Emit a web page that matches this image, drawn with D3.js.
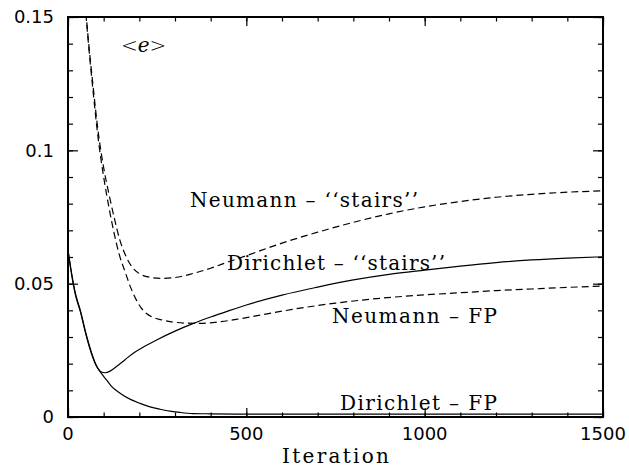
<!DOCTYPE html>
<html>
<head>
<meta charset="utf-8">
<script src="https://cdn.jsdelivr.net/npm/d3@7"></script>
<style>
  html, body { margin: 0; padding: 0; background: #fff; }
  svg { display: block; }
</style>
</head>
<body>
<svg id="chart" width="629" height="468"></svg>
<script>
// Mean error <e> versus iteration count for four solvers.

// Dirichlet boundary, "stairs" scheme (solid)
const dirStairsIter = [0, 10, 20, 35, 50, 65, 80, 92, 104, 118, 136, 160, 185, 215, 250, 300, 350, 400, 450, 500, 600, 700, 800, 900, 1000, 1100, 1200, 1300, 1400, 1500];
const dirStairsErr  = [0.0625, 0.0540, 0.0468, 0.0398, 0.0315, 0.0245, 0.0192, 0.0170, 0.0166, 0.0172, 0.0189, 0.0215, 0.0241, 0.0265, 0.0290, 0.0322, 0.0350, 0.0375, 0.0398, 0.0420, 0.0457, 0.0487, 0.0514, 0.0535, 0.0551, 0.0566, 0.0579, 0.0589, 0.0596, 0.0601];

// Dirichlet boundary, FP scheme (solid)
const dirFpIter = [0, 10, 20, 35, 50, 65, 80, 90, 108, 120, 146, 175, 202, 230, 258, 290, 314, 350, 400, 500, 700, 1000, 1500];
const dirFpErr  = [0.0625, 0.0535, 0.0463, 0.0393, 0.0311, 0.0241, 0.0190, 0.0170, 0.0139, 0.0118, 0.0089, 0.0066, 0.0051, 0.0038, 0.0029, 0.0021, 0.0017, 0.0013, 0.0012, 0.0011, 0.0011, 0.0011, 0.0011];

// Neumann boundary, "stairs" scheme (dashed)
const neuStairsIter = [35, 45, 55, 70, 85, 100, 115, 130, 145, 160, 180, 200, 230, 260, 300, 350, 400, 450, 500, 600, 700, 800, 900, 1000, 1100, 1200, 1300, 1400, 1500];
const neuStairsErr  = [0.181, 0.161, 0.1445, 0.1245, 0.1065, 0.0935, 0.0835, 0.0745, 0.0665, 0.0610, 0.0562, 0.0538, 0.0524, 0.0520, 0.0523, 0.0538, 0.0558, 0.0582, 0.0605, 0.0652, 0.0693, 0.0730, 0.0762, 0.0788, 0.0808, 0.0824, 0.0835, 0.0843, 0.0848];

// Neumann boundary, FP scheme (dashed)
const neuFpIter = [35, 45, 55, 70, 85, 100, 115, 130, 145, 160, 175, 190, 205, 220, 240, 260, 290, 330, 370, 420, 480, 550, 650, 750, 850, 1000, 1100, 1200, 1300, 1400, 1500];
const neuFpErr  = [0.180, 0.160, 0.1435, 0.1225, 0.1040, 0.0900, 0.0785, 0.0685, 0.0603, 0.0545, 0.0488, 0.0443, 0.0409, 0.0388, 0.0373, 0.0365, 0.0357, 0.0352, 0.0351, 0.0356, 0.0368, 0.0385, 0.0408, 0.0427, 0.0442, 0.0458, 0.0466, 0.0474, 0.0480, 0.0486, 0.0491];

// Axis ticks and labels
const xMajorTicks = [0, 500, 1000, 1500];
const xTickLabels = ["0", "500", "1000", "1500"];
const xMinorTicks = d3.range(0, 16).map(k => k * 100);
const yMajorTicks = [0, 0.05, 0.1, 0.15];
const yTickLabels = ["0", "0.05", "0.1", "0.15"];
const yMinorTicks = d3.range(0, 16).map(k => k / 100);

// Curve annotations
const curveLabels = ["Neumann \u2013 \u2018\u2018stairs\u2019\u2019", "Dirichlet \u2013 \u2018\u2018stairs\u2019\u2019", "Neumann \u2013 FP", "Dirichlet \u2013 FP"];
const xTitle = "Iteration";

const svg = d3.select("#chart");
const plotLeft = 68, plotRight = 603, plotTop = 17, plotBottom = 417;

const x = d3.scaleLinear().domain([0, 1500]).range([plotLeft, plotRight]);
const y = d3.scaleLinear().domain([0, 0.15]).range([plotBottom, plotTop]);

svg.append("rect").attr("width", 629).attr("height", 468).attr("fill", "#fff");

svg.append("defs").append("clipPath").attr("id", "plot-clip")
  .append("rect").attr("x", plotLeft).attr("y", plotTop)
  .attr("width", plotRight - plotLeft).attr("height", plotBottom - plotTop);

// Inward-pointing ticks on all four sides
function tickAxis(axisFn, scale, values, size, transform) {
  const g = svg.append("g").attr("transform", transform)
    .call(axisFn(scale).tickValues(values).tickSize(-size).tickFormat(""));
  g.select(".domain").remove();
  g.selectAll("line").attr("stroke", "#000").attr("stroke-width", 1.2);
  g.selectAll("text").remove();
  return g;
}
tickAxis(d3.axisBottom, x, xMinorTicks, 4.5, `translate(0,${plotBottom})`);
tickAxis(d3.axisBottom, x, xMajorTicks, 9, `translate(0,${plotBottom})`);
tickAxis(d3.axisTop, x, xMinorTicks, 4.5, `translate(0,${plotTop})`);
tickAxis(d3.axisTop, x, xMajorTicks, 9, `translate(0,${plotTop})`);
tickAxis(d3.axisLeft, y, yMinorTicks, 5, `translate(${plotLeft},0)`);
tickAxis(d3.axisLeft, y, yMajorTicks, 10, `translate(${plotLeft},0)`);
tickAxis(d3.axisRight, y, yMinorTicks, 5, `translate(${plotRight},0)`);
tickAxis(d3.axisRight, y, yMajorTicks, 10, `translate(${plotRight},0)`);

// Frame
svg.append("rect").attr("x", plotLeft).attr("y", plotTop)
  .attr("width", plotRight - plotLeft).attr("height", plotBottom - plotTop)
  .attr("fill", "none").attr("stroke", "#000").attr("stroke-width", 2);

// Tick labels
svg.append("g").selectAll("text").data(xMajorTicks).join("text")
  .attr("x", d => x(d)).attr("y", 440)
  .attr("text-anchor", "middle")
  .attr("font-family", "DejaVu Sans").attr("font-size", 18)
  .text((d, i) => xTickLabels[i]);

svg.append("g").selectAll("text").data(yMajorTicks).join("text")
  .attr("x", 54).attr("y", d => y(d)).attr("dy", "0.36em")
  .attr("text-anchor", "end")
  .attr("font-family", "DejaVu Sans").attr("font-size", 18)
  .text((d, i) => yTickLabels[i]);

// Axis title
svg.append("text")
  .attr("x", (plotLeft + plotRight) / 2).attr("y", 463)
  .attr("text-anchor", "middle")
  .attr("font-family", "DejaVu Serif").attr("font-size", 20)
  .attr("textLength", 107).attr("lengthAdjust", "spacing")
  .text(xTitle);

// Curves
const series = [
  { it: neuStairsIter, v: neuStairsErr, dash: "7,4" },
  { it: dirStairsIter, v: dirStairsErr, dash: null },
  { it: neuFpIter, v: neuFpErr, dash: "7,4" },
  { it: dirFpIter, v: dirFpErr, dash: null }
];
const line = d3.line().x(d => x(d[0])).y(d => y(d[1])).curve(d3.curveMonotoneX);
const curves = svg.append("g").attr("clip-path", "url(#plot-clip)");
series.forEach(s => {
  curves.append("path")
    .datum(s.it.map((t, i) => [t, s.v[i]]))
    .attr("d", line)
    .attr("fill", "none").attr("stroke", "#000").attr("stroke-width", 1.2)
    .attr("stroke-dasharray", s.dash);
});

// Curve labels
const labelPos = [
  { x: 190, y: 207, w: 228 },
  { x: 227, y: 270, w: 218 },
  { x: 332, y: 323, w: 165 },
  { x: 340, y: 410, w: 157 }
];
svg.append("g").selectAll("text").data(curveLabels).join("text")
  .attr("x", (d, i) => labelPos[i].x).attr("y", (d, i) => labelPos[i].y)
  .attr("font-family", "DejaVu Serif").attr("font-size", 20)
  .attr("textLength", (d, i) => labelPos[i].w).attr("lengthAdjust", "spacing")
  .text(d => d);

// Quantity label <e>, laid out as one run of text
const qty = svg.append("text").attr("x", 121).attr("y", 52).attr("font-size", 20);
qty.append("tspan").attr("font-family", "DejaVu Sans").attr("font-weight", 200).text("<");
qty.append("tspan").attr("font-family", "DejaVu Serif").attr("font-style", "italic").text("e");
qty.append("tspan").attr("font-family", "DejaVu Sans").attr("font-weight", 200).text(">");
</script>
</body>
</html>
